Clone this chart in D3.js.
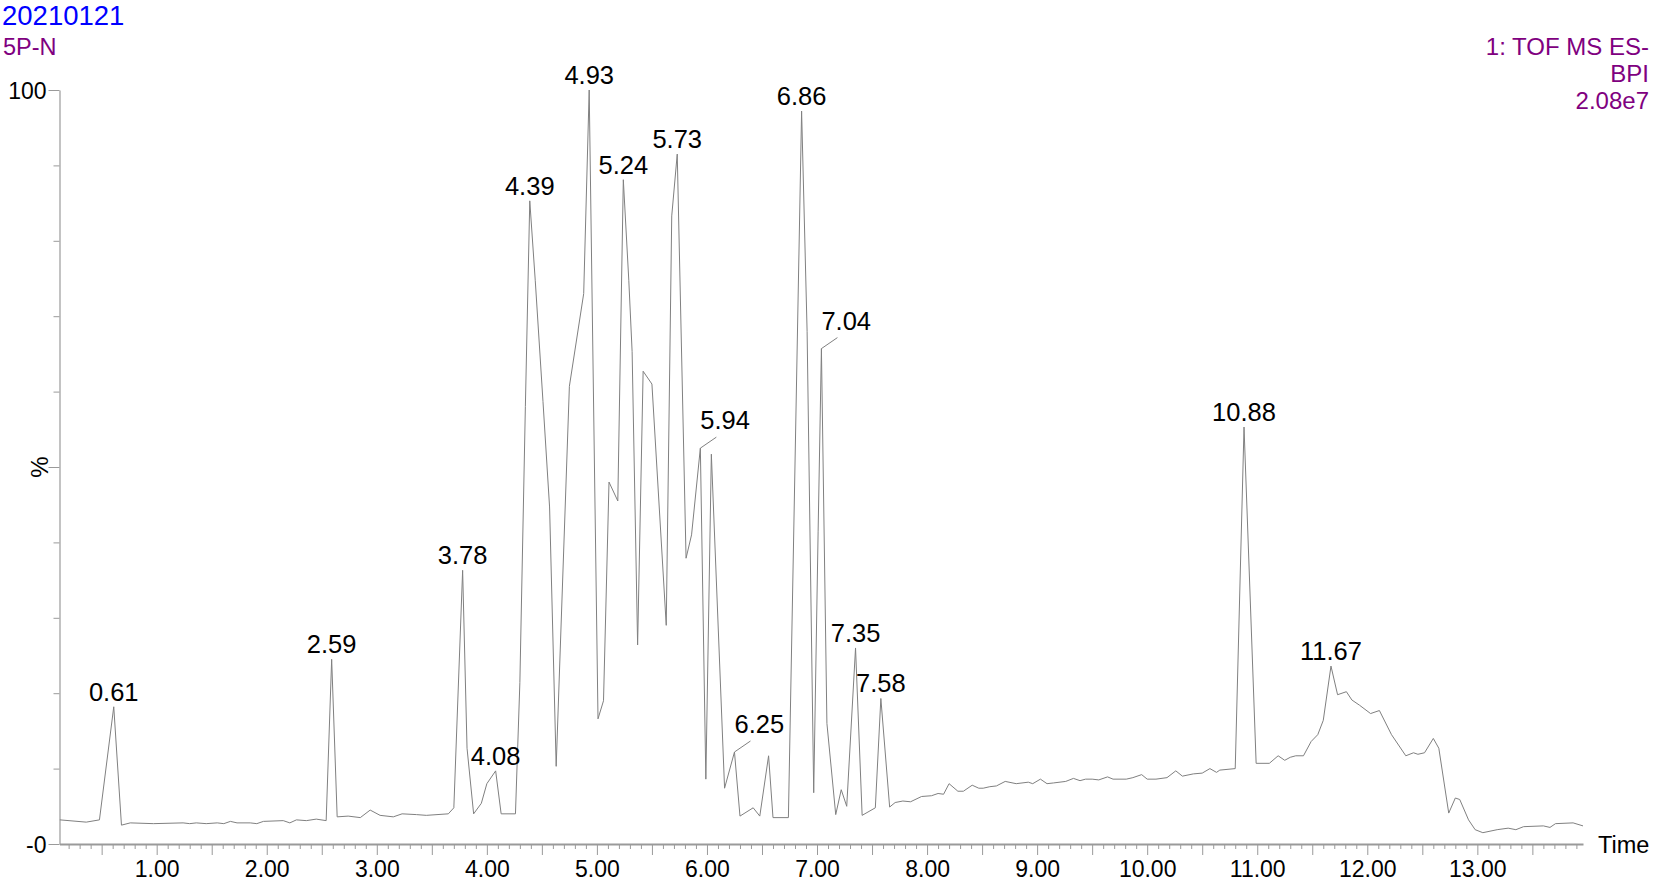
<!DOCTYPE html>
<html>
<head>
<meta charset="utf-8">
<script src="https://cdn.jsdelivr.net/npm/d3@7"></script>
<style>
    body { margin: 0; background: #fff; }
    svg { display: block; font-family: 'Liberation Sans', Arial, sans-serif; }
</style>
</head>
<body>
<div class="chrom-container"></div>
<script>
// retention time (min) and base peak intensity (% of 2.08e7)
const rtMin = [
    0.12, 0.36, 0.48, 0.61, 0.68, 0.76, 0.97, 1.24, 1.30, 1.36, 1.45, 1.55, 1.61, 1.67, 1.73, 1.85,
    1.91, 1.97, 2.15, 2.21, 2.27, 2.36, 2.45, 2.54, 2.59, 2.64, 2.74, 2.85, 2.94, 3.03, 3.15, 3.23,
    3.36, 3.45, 3.65, 3.70, 3.78, 3.82, 3.88, 3.95, 4.00, 4.08, 4.13, 4.26, 4.30, 4.35, 4.39, 4.44,
    4.51, 4.57, 4.63, 4.75, 4.88, 4.93, 5.01, 5.06, 5.11, 5.19, 5.24, 5.29, 5.32, 5.37, 5.42, 5.50,
    5.63, 5.68, 5.73, 5.81, 5.86, 5.94, 5.99, 6.04, 6.16, 6.25, 6.30, 6.42, 6.48, 6.56, 6.60, 6.74,
    6.86, 6.91, 6.97, 7.01, 7.04, 7.09, 7.17, 7.22, 7.27, 7.35, 7.41, 7.53, 7.58, 7.66, 7.71, 7.78,
    7.85, 7.95, 8.04, 8.10, 8.15, 8.20, 8.28, 8.33, 8.41, 8.47, 8.51, 8.57, 8.63, 8.71, 8.81, 8.92,
    8.96, 9.03, 9.09, 9.15, 9.26, 9.33, 9.39, 9.44, 9.50, 9.56, 9.64, 9.69, 9.81, 9.87, 9.95, 10.00,
    10.08, 10.18, 10.26, 10.32, 10.42, 10.50, 10.57, 10.63, 10.66, 10.80, 10.88, 10.99, 11.11, 11.19,
    11.25, 11.30, 11.35, 11.42, 11.49, 11.55, 11.60, 11.67, 11.73, 11.81, 11.86, 11.93, 12.03, 12.11,
    12.22, 12.35, 12.42, 12.46, 12.52, 12.60, 12.65, 12.74, 12.80, 12.84, 12.92, 12.98, 13.05, 13.18,
    13.28, 13.35, 13.42, 13.60, 13.66, 13.71, 13.87, 13.96
];
const bpiPct = [
    3.2, 2.9, 3.2, 18.2, 2.5, 2.8, 2.7, 2.8, 2.7, 2.8, 2.7, 2.8, 2.7, 3.0, 2.8, 2.8,
    2.7, 3.0, 3.1, 2.8, 3.2, 3.1, 3.3, 3.1, 24.5, 3.6, 3.7, 3.5, 4.5, 3.8, 3.6, 4.0,
    3.9, 3.8, 4.0, 4.8, 36.3, 12.7, 4.0, 5.4, 8.0, 9.7, 4.0, 4.0, 21.4, 58.0, 85.3, 74.7,
    58.7, 44.7, 10.3, 60.7, 73.0, 100, 16.6, 19.0, 48.0, 45.5, 88.1, 74.7, 65.3, 26.4, 62.7, 61.0,
    29.0, 83.3, 91.5, 37.9, 41.0, 52.5, 8.6, 51.7, 7.4, 12.2, 3.7, 4.8, 3.7, 11.7, 3.5, 3.5,
    97.2, 68.0, 6.8, 41.4, 65.7, 16.0, 3.9, 7.2, 5.0, 26.0, 3.8, 4.8, 19.3, 4.9, 5.5, 5.7,
    5.6, 6.3, 6.4, 6.7, 6.6, 8.0, 7.0, 7.0, 7.8, 7.4, 7.4, 7.6, 7.7, 8.3, 8.0, 8.2,
    8.0, 8.6, 8.0, 8.1, 8.3, 8.7, 8.4, 8.6, 8.6, 8.5, 8.9, 8.6, 8.6, 8.8, 9.2, 8.6,
    8.6, 8.8, 9.7, 9.0, 9.3, 9.4, 10.0, 9.5, 9.8, 10.0, 55.3, 10.7, 10.7, 11.7,
    11.1, 11.5, 11.7, 11.7, 13.6, 14.5, 16.4, 23.6, 19.8, 20.2, 19.1, 18.4, 17.3, 17.7,
    14.5, 11.7, 12.1, 11.9, 12.1, 14.0, 12.7, 4.1, 6.1, 5.9, 3.2, 1.9, 1.5, 1.9,
    2.1, 1.9, 2.3, 2.4, 2.2, 2.7, 2.8, 2.4
];

// labelled peaks; the ones in leaderPeaks get a short leader line
const peakLabels = [0.61, 2.59, 3.78, 4.08, 4.39, 4.93, 5.24, 5.73, 5.94, 6.25, 6.86, 7.04, 7.35, 7.58, 10.88, 11.67];
const leaderPeaks = [5.94, 6.25, 7.04];

const timeTicks = [1, 2, 3, 4, 5, 6, 7, 8, 9, 10, 11, 12, 13];
const pctTicks = [0, 50, 100];
const pctTickLabels = ['-0', '', '100'];
const headerLeft = ['20210121', '5P-N'];
const headerRight = ['1: TOF MS ES-', 'BPI', '2.08e7'];

const width = 1660;
const height = 883;
const axisGrey = '#9a9a9a';
const traceGrey = '#808080';
const purple = '#800080';

const svg = d3.select('.chrom-container')
    .append('svg')
    .attr('width', width)
    .attr('height', height);

svg.append('rect')
    .attr('width', width)
    .attr('height', height)
    .attr('fill', '#fff');

const x = d3.scaleLinear()
    .domain([0.117, 13.96])
    .range([59.5, 1583]);

const y = d3.scaleLinear()
    .domain([0, 100])
    .range([844, 90]);

// x axis: minor ticks every 0.1, long ticks every 0.5, labels on whole minutes
const minorTimes = d3.range(2, 140).map(d => d / 10).filter(d => Math.round(d * 10) % 5 !== 0);
const halfTimes = d3.range(1, 28).map(d => d / 2);

const xMinor = svg.append('g')
    .attr('transform', `translate(0,${y(0)})`)
    .call(d3.axisBottom(x).tickValues(minorTimes).tickSize(5).tickSizeOuter(0).tickFormat(''));
xMinor.select('.domain').remove();

const xMajor = svg.append('g')
    .attr('transform', `translate(0,${y(0)})`)
    .call(d3.axisBottom(x)
        .tickValues(halfTimes)
        .tickSize(11)
        .tickSizeOuter(0)
        .tickPadding(6)
        .tickFormat(d => timeTicks.includes(d) ? d3.format('.2f')(d) : ''));

[xMinor, xMajor].forEach(g => {
    g.selectAll('line').attr('stroke', axisGrey);
    g.selectAll('text').attr('fill', '#000').style('font-size', '23px').style('font-family', null);
});
xMajor.select('.domain')
    .attr('stroke', axisGrey)
    .attr('stroke-width', 2);

// y axis
const yMinor = svg.append('g')
    .attr('transform', `translate(${x.range()[0]},0)`)
    .call(d3.axisLeft(y).tickValues([10, 20, 30, 40, 60, 70, 80, 90]).tickSize(6).tickSizeOuter(0).tickFormat(''));
yMinor.select('.domain').remove();

const yMajor = svg.append('g')
    .attr('transform', `translate(${x.range()[0]},0)`)
    .call(d3.axisLeft(y)
        .tickValues(pctTicks)
        .tickSize(11)
        .tickSizeOuter(0)
        .tickPadding(2)
        .tickFormat((d, i) => pctTickLabels[i]));

[yMinor, yMajor].forEach(g => {
    g.selectAll('line').attr('stroke', axisGrey);
    g.selectAll('text').attr('fill', '#000').attr('dy', '0.36em').style('font-size', '23px').style('font-family', null);
});
yMajor.select('.domain')
    .attr('stroke', axisGrey)
    .attr('stroke-width', 1.2);

svg.append('text')
    .attr('transform', `translate(48,${y(50)}) rotate(-90)`)
    .attr('text-anchor', 'middle')
    .style('font-size', '24px')
    .text('%');

svg.append('text')
    .attr('x', 1598)
    .attr('y', 853)
    .style('font-size', '23.5px')
    .text('Time');

// trace
const trace = rtMin.map((t, i) => ({ t, v: bpiPct[i] }));

svg.append('path')
    .datum(trace)
    .attr('fill', 'none')
    .attr('stroke', traceGrey)
    .attr('stroke-width', 1)
    .attr('d', d3.line().x(d => x(d.t)).y(d => y(d.v)));

// peak labels
const peaks = peakLabels.map(t => {
    const p = trace.find(d => Math.abs(d.t - t) < 0.001);
    return { t, v: p.v, leader: leaderPeaks.includes(t) };
});

svg.append('g')
    .selectAll('line')
    .data(peaks.filter(d => d.leader))
    .enter()
    .append('line')
    .attr('x1', d => x(d.t))
    .attr('y1', d => y(d.v))
    .attr('x2', d => x(d.t) + 16)
    .attr('y2', d => y(d.v) - 11)
    .attr('stroke', traceGrey)
    .attr('stroke-width', 1);

svg.append('g')
    .selectAll('text')
    .data(peaks)
    .enter()
    .append('text')
    .attr('x', d => x(d.t))
    .attr('y', d => d.leader ? y(d.v) - 19 : y(d.v) - 6)
    .attr('text-anchor', d => d.leader ? 'start' : 'middle')
    .style('font-size', '25.5px')
    .attr('fill', '#000')
    .text(d => d.t.toFixed(2));

// header
svg.append('text')
    .attr('x', 2)
    .attr('y', 25)
    .attr('fill', '#0000ff')
    .style('font-size', '27.5px')
    .text(headerLeft[0]);

svg.append('text')
    .attr('x', 3)
    .attr('y', 55)
    .attr('fill', purple)
    .style('font-size', '23.5px')
    .text(headerLeft[1]);

svg.append('g')
    .selectAll('text')
    .data(headerRight)
    .enter()
    .append('text')
    .attr('x', 1649)
    .attr('y', (d, i) => 55 + i * 27)
    .attr('text-anchor', 'end')
    .attr('fill', purple)
    .style('font-size', '24px')
    .text(d => d);
</script>
</body>
</html>
